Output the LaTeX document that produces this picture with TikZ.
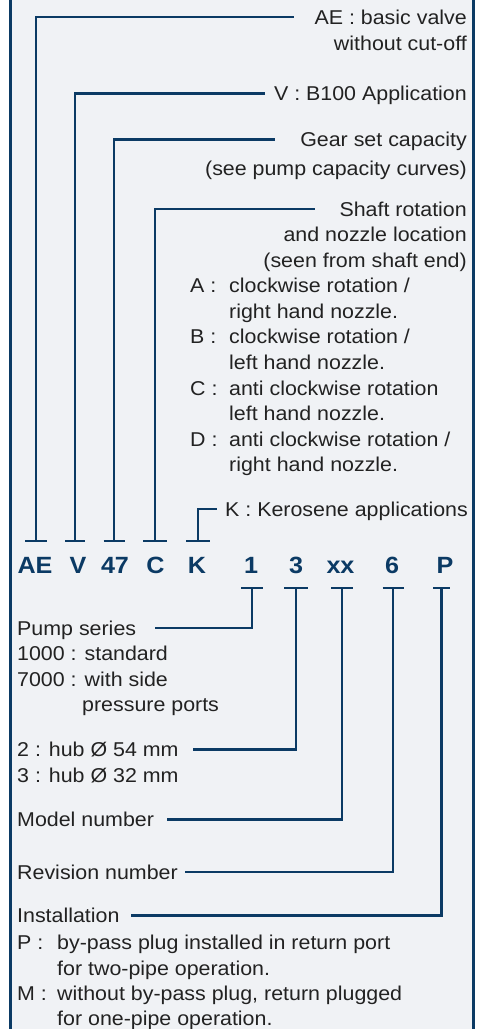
\documentclass[tikz,border=0pt]{standalone}
\usepackage{fontspec}
\setmainfont{Liberation Sans}[FakeStretch=1.07]
\definecolor{navy}{HTML}{0B3A64}
\definecolor{txt}{HTML}{222222}
\definecolor{bg}{HTML}{F0F2F5}
\begin{document}
\begin{tikzpicture}[x=1pt,y=-1pt,
  lab/.style={inner sep=0pt, text height=14pt, text depth=0pt, font=\fontsize{20}{25.6}\selectfont, text=txt},
  code/.style={inner sep=0pt, font=\fontsize{23.5}{28}\selectfont\bfseries, text=navy},
  conn/.style={draw=navy, line width=2.6pt},
  frame/.style={draw=navy, line width=2.7pt}]
\useasboundingbox (0,0) rectangle (483,1029);
\fill[white] (0,0) rectangle (483,1029);
\fill[bg] (10.5,0) rectangle (473.7,1029);
\draw[frame] (10.5,-3) -- (10.5,1032) (473.7,-3) -- (473.7,1032);

% upper labels
\node[lab, anchor=base east] (lAE) at (467,24) {AE : basic valve};
\node[lab, anchor=base east] (lAE2) at (467,50) {without cut-off};
\node[lab, anchor=base east] (lV) at (467,100.7) {V : B100 Application};
\node[lab, anchor=base east] (lG) at (467,146.7) {Gear set capacity};
\node[lab, anchor=base east] (lG2) at (467,175) {(see pump capacity curves)};
\node[lab, anchor=base east] (lS) at (467,216) {Shaft rotation};
\node[lab, anchor=base east] (lS2) at (467,241.7) {and nozzle location};
\node[lab, anchor=base east] (lS3) at (467,267.7) {(seen from shaft end)};
\node[lab, anchor=base west] (kA) at (190,292.7) {A :};
\node[lab, anchor=base west] (tA1) at (229,292.7) {clockwise rotation /};
\node[lab, anchor=base west] (tA2) at (229,318.3) {right hand nozzle.};
\node[lab, anchor=base west] (kB) at (190,343.9) {B :};
\node[lab, anchor=base west] (tB1) at (229,343.9) {clockwise rotation /};
\node[lab, anchor=base west] (tB2) at (229,369.5) {left hand nozzle.};
\node[lab, anchor=base west] (kC) at (190,395.1) {C :};
\node[lab, anchor=base west] (tC1) at (229,395.1) {anti clockwise rotation};
\node[lab, anchor=base west] (tC2) at (229,420.7) {left hand nozzle.};
\node[lab, anchor=base west] (kD) at (190,446.3) {D :};
\node[lab, anchor=base west] (tD1) at (229,446.3) {anti clockwise rotation /};
\node[lab, anchor=base west] (tD2) at (229,471.9) {right hand nozzle.};
\node[lab, anchor=base west] (lK) at (225,516) {K : Kerosene applications};

% code row
\node[code, anchor=base] (cAE) at (35,573) {AE};
\node[code, anchor=base] (cV) at (78,573) {V};
\node[code, anchor=base] (c47) at (115,573) {47};
\node[code, anchor=base] (cC) at (155.5,573) {C};
\node[code, anchor=base] (cK) at (197,573) {K};
\node[code, anchor=base] (c1) at (251,573) {1};
\node[code, anchor=base] (c3) at (296,573) {3};
\node[code, anchor=base] (cxx) at (340.5,573) {xx};
\node[code, anchor=base] (c6) at (392,573) {6};
\node[code, anchor=base] (cP) at (445,573) {P};

% bar coordinates
\coordinate (bAE) at (36,541);
\coordinate (bV) at (75,541);
\coordinate (b47) at (114,541);
\coordinate (bC) at (155,541);
\coordinate (bK) at (198,541);
\coordinate (b1) at (252,588);
\coordinate (b3) at (296,588);
\coordinate (bxx) at (342,588);
\coordinate (b6) at (393,588);
\coordinate (bP) at (441.5,588);

% lower labels
\node[lab, anchor=base west] (lPS) at (17,635) {Pump series};
\node[lab, anchor=base west] (lPS2) at (17,660.7) {1000 : standard};
\node[lab, anchor=base west] (lPS3) at (17,686.7) {7000 : with side};
\node[lab, anchor=base west] (lPS4) at (82,711) {pressure ports};
\node[lab, anchor=base west] (lH) at (17,756.7) {2 : hub Ø 54 mm};
\node[lab, anchor=base west] (lH2) at (17,782.7) {3 : hub Ø 32 mm};
\node[lab, anchor=base west] (lM) at (17,826.7) {Model number};
\node[lab, anchor=base west] (lR) at (17,879) {Revision number};
\node[lab, anchor=base west] (lI) at (17,922.7) {Installation};
\node[lab, anchor=base west] (kP) at (17,949) {P :};
\node[lab, anchor=base west] (tP1) at (57,949) {by-pass plug installed in return port};
\node[lab, anchor=base west] (tP2) at (57,975) {for two-pipe operation.};
\node[lab, anchor=base west] (kM) at (17,1000) {M :};
\node[lab, anchor=base west] (tM1) at (57,1000) {without by-pass plug, return plugged};
\node[lab, anchor=base west] (tM2) at (57,1025) {for one-pipe operation.};

% connectors (upper)
\draw[conn] ([xshift=-11pt]bAE) -- ([xshift=11pt]bAE) (bAE) |- ([xshift=-20pt]lAE.west);
\draw[conn] ([xshift=-10pt]bV) -- ([xshift=10pt]bV) (bV) |- ([xshift=-9pt]lV.west);
\draw[conn] ([xshift=-10.5pt]b47) -- ([xshift=10.5pt]b47) (b47) |- ([xshift=-25pt]lG.west);
\draw[conn] ([xshift=-12pt]bC) -- ([xshift=12pt]bC) (bC) |- ([xshift=-24pt]lS.west);
\draw[conn] ([xshift=-12pt]bK) -- ([xshift=12pt]bK) (bK) |- ([xshift=-8pt]lK.west);

% connectors (lower)
\draw[conn] ([xshift=-11pt]b1) -- ([xshift=11pt]b1) (b1) |- ([xshift=19pt]lPS.east);
\draw[conn] ([xshift=-12pt]b3) -- ([xshift=12pt]b3) (b3) |- ([xshift=14pt]lH.east);
\draw[conn] ([xshift=-11pt]bxx) -- ([xshift=11pt]bxx) (bxx) |- ([xshift=13pt]lM.east);
\draw[conn] ([xshift=-10.5pt]b6) -- ([xshift=10.5pt]b6) (b6) |- ([xshift=7pt]lR.east);
\draw[conn] ([xshift=-8.5pt]bP) -- ([xshift=8.5pt]bP) (bP) |- ([xshift=11pt]lI.east);
\end{tikzpicture}
\end{document}
